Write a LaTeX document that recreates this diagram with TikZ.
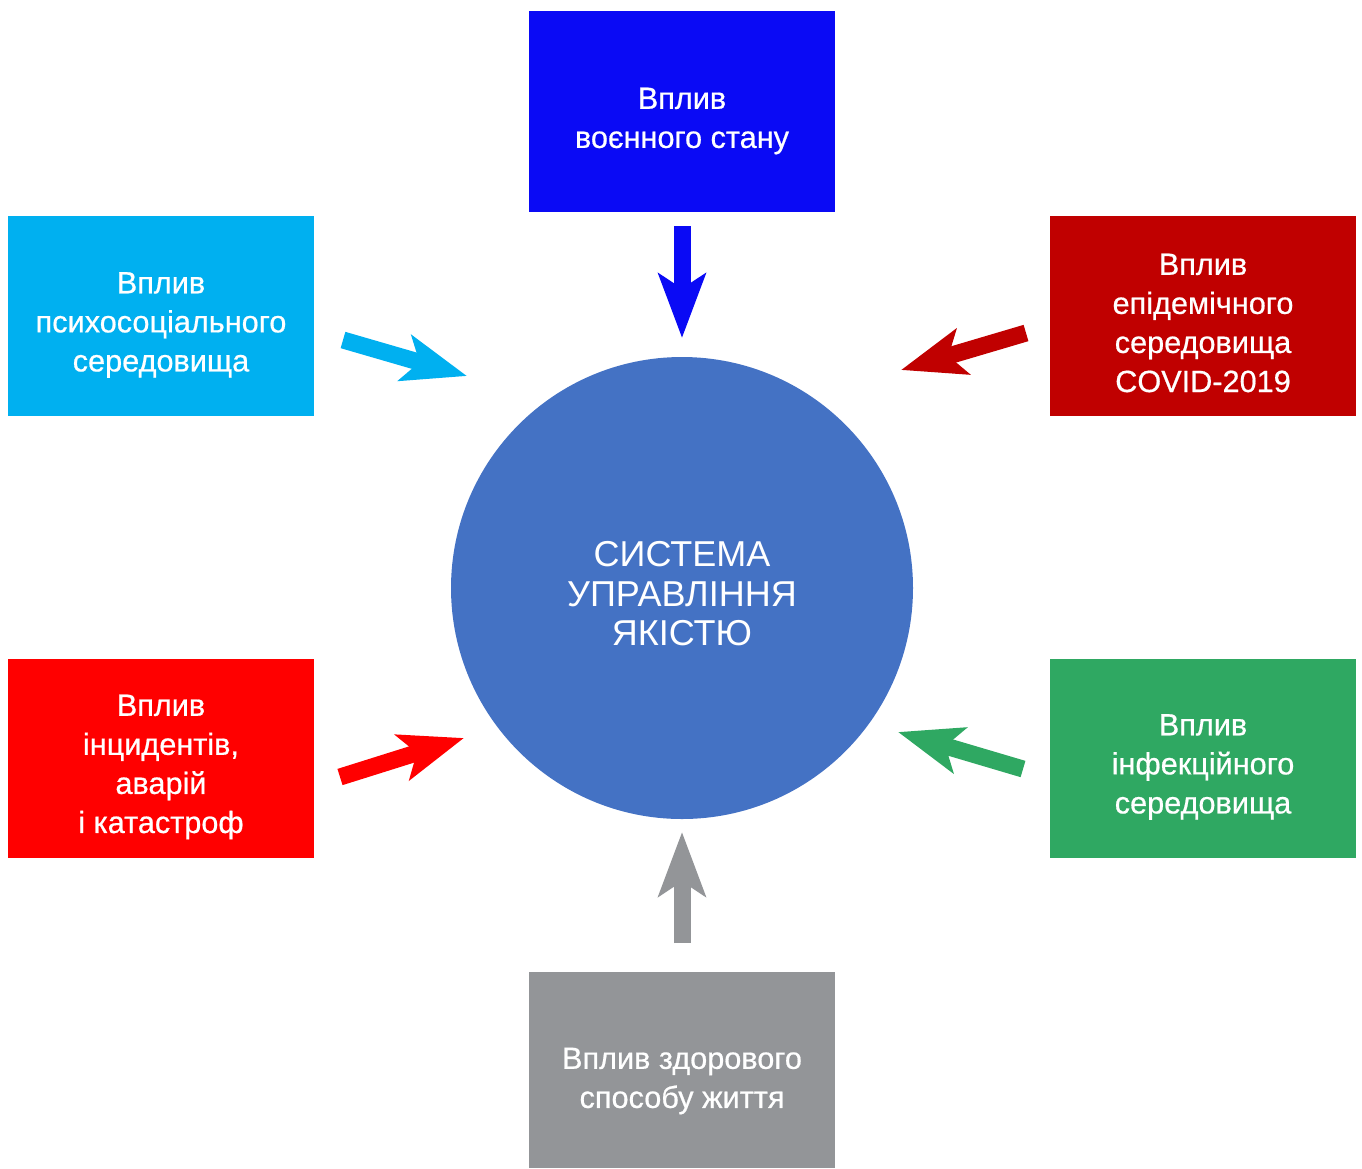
\documentclass[tikz,border=0pt]{standalone}
\usepackage{fontspec}
\setmainfont{Liberation Sans}
\newfontfamily\labelfont[FakeBold=0.6]{Liberation Sans}
\usetikzlibrary{arrows.meta}

\definecolor{cBlue}{HTML}{0A0AF5}
\definecolor{cCyan}{HTML}{00B0F0}
\definecolor{cDarkRed}{HTML}{C00000}
\definecolor{cRed}{HTML}{FF0000}
\definecolor{cGreen}{HTML}{2FA862}
\definecolor{cGray}{HTML}{939598}
\definecolor{cCore}{HTML}{4472C4}

\tikzset{
  factor/.style={fill=#1, draw=none, minimum width=229.5pt,
    minimum height=150pt, inner sep=0pt},
  label/.style={text=white, align=center, inner sep=0pt,
    font=\labelfont\fontsize{23}{29.3}\selectfont},
  core/.style={circle, fill=cCore, draw=none, minimum size=346.5pt, inner sep=0pt},
  coretext/.style={text=white, align=center, inner sep=0pt,
    font=\fontsize{27}{29.6}\selectfont},
  influence/.style={draw=#1, line width=12.75pt,
    -{Stealth[length=48pt, width=35pt, inset=11pt]}},
}

\begin{document}
\begin{tikzpicture}[x=0.75pt, y=-0.75pt]
  \useasboundingbox (0,0) rectangle (1362,1168);

  % central circle
  \node[core] (sys) at (682,588) {};
  \node[coretext] (sysT) at (682,594) {СИСТЕМА\\УПРАВЛІННЯ\\ЯКІСТЮ};

  % surrounding factors
  \node[factor=cBlue, minimum height=150.75pt] (war) at (682,111.5) {};
  \node[factor=cCyan] (psy) at (161,316) {};
  \node[factor=cDarkRed] (epi) at (1203,316) {};
  \node[factor=cRed, minimum height=149.25pt] (inc) at (161,758.5) {};
  \node[factor=cGreen, minimum height=149.25pt] (inf) at (1203,758.5) {};
  \node[factor=cGray, minimum height=147pt] (life) at (682,1070) {};

  % their captions
  \node[label] (warT) at (682,121) {Вплив\\воєнного стану};
  \node[label] (psyT) at (161,325) {Вплив\\психосоціального\\середовища};
  \node[label] (epiT) at (1203,323) {Вплив\\епідемічного\\середовища\\COVID-2019};
  \node[label] (incT) at (161,767) {Вплив\\інцидентів,\\аварій\\і катастроф};
  \node[label] (infT) at (1203,767) {Вплив\\інфекційного\\середовища};
  \node[label] (lifeT) at (682,1081) {Вплив здорового\\способу життя};

  % arrow ends
  \coordinate (warA) at (682,226);  \coordinate (warB) at (682,338);
  \coordinate (psyA) at (343,340);  \coordinate (psyB) at (467,376);
  \coordinate (epiA) at (1026,333); \coordinate (epiB) at (901,370);
  \coordinate (incA) at (340,777);  \coordinate (incB) at (464,738);
  \coordinate (infA) at (1023,769); \coordinate (infB) at (898,732);
  \coordinate (lifeA) at (682,943); \coordinate (lifeB) at (682,832);

  % influence arrows
  \draw[influence=cBlue] (warA) -- (warB);
  \draw[influence=cCyan] (psyA) -- (psyB);
  \draw[influence=cDarkRed] (epiA) -- (epiB);
  \draw[influence=cRed] (incA) -- (incB);
  \draw[influence=cGreen] (infA) -- (infB);
  \draw[influence=cGray] (lifeA) -- (lifeB);
\end{tikzpicture}
\end{document}
